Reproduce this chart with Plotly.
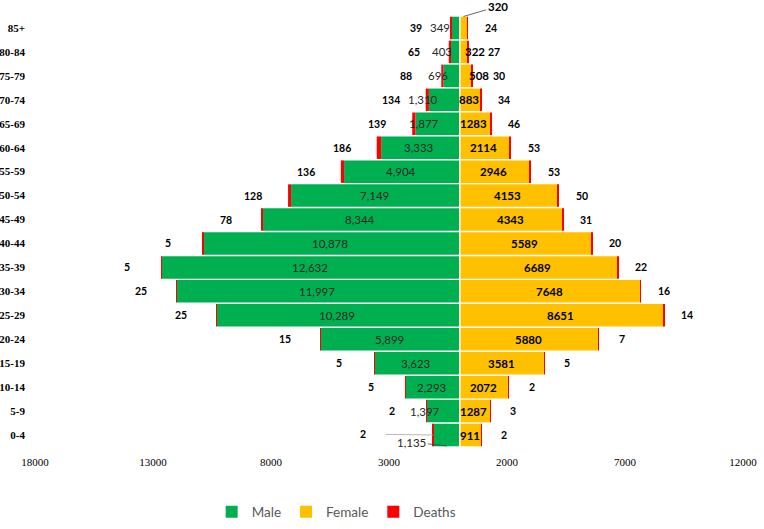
import plotly.graph_objects as go

# ---------------- data ----------------
ages = ["0-4", "5-9", "10-14", "15-19", "20-24", "25-29", "30-34", "35-39", "40-44",
        "45-49", "50-54", "55-59", "60-64", "65-69", "70-74", "75-79", "80-84", "85+"]
male = [1135, 1397, 2293, 3623, 5899, 10289, 11997, 12632, 10878,
        8344, 7149, 4904, 3333, 1877, 1310, 696, 403, 349]
female = [911, 1287, 2072, 3581, 5880, 8651, 7648, 6689, 5589,
          4343, 4153, 2946, 2114, 1283, 883, 508, 322, 320]
deaths_male = [2, 2, 5, 5, 15, 25, 25, 5, 5, 78, 128, 136, 186, 139, 134, 88, 65, 39]
deaths_female = [2, 3, 2, 5, 7, 14, 16, 22, 20, 31, 50, 53, 53, 46, 34, 30, 27, 24]
tick_values = [-18000, -13000, -8000, -3000, 2000, 7000, 12000]
tick_labels = ["18000", "13000", "8000", "3000", "2000", "7000", "12000"]

GREEN = "#00B050"
YELLOW = "#FFC000"
RED = "#FF0000"
LBL = "Lato"

fig = go.Figure()
fig.add_trace(go.Bar(name="Male", y=ages, x=[-v for v in male], orientation="h",
                     marker=dict(color=GREEN, line=dict(width=0)), hoverinfo="skip"))
fig.add_trace(go.Bar(name="Female", y=ages, x=female, orientation="h",
                     marker=dict(color=YELLOW, line=dict(width=0)), hoverinfo="skip"))
fig.add_trace(go.Bar(name="Deaths", y=ages, x=[-v for v in deaths_male], orientation="h",
                     marker=dict(color=RED, line=dict(width=0)), hoverinfo="skip"))
fig.add_trace(go.Bar(name="Deaths", y=ages, x=deaths_female, orientation="h",
                     marker=dict(color=RED, line=dict(width=0)), showlegend=False,
                     hoverinfo="skip"))

# label nudges (pixels) for labels that sit off-centre in the reference
male_dx = {"85+": -16, "80-84": -13, "75-79": -14, "70-74": -21, "65-69": -14, "5-9": -18}
female_dx = {"80-84": 11, "75-79": 13}
female_death_dx = {"80-84": 26, "75-79": 26}

ann = []
for i, a in enumerate(ages):
    m, f, dm, df = male[i], female[i], deaths_male[i], deaths_female[i]
    # male value
    if a == "0-4":
        ann.append(dict(x=-550, y=a, yshift=-11, text=f"{m:,}", showarrow=True,
                        ax=-35, ay=-4, arrowhead=0, arrowwidth=0.8, arrowcolor="#404040",
                        font=dict(family=LBL, size=11.5, color="#262626")))
    else:
        ann.append(dict(x=-m / 2, y=a, text=f"{m:,}", showarrow=False,
                        xshift=male_dx.get(a, -1),
                        font=dict(family=LBL, size=11.5, color="#262626")))
    # female value
    if a == "85+":
        ann.append(dict(x=f / 2, y=a, yshift=11.5, text=f"<b>{f}</b>", showarrow=True,
                        ax=34, ay=-10, arrowhead=0, arrowwidth=0.8, arrowcolor="#404040",
                        font=dict(family=LBL, size=11.5, color="black")))
    else:
        ann.append(dict(x=f / 2, y=a, text=f"<b>{f}</b>", showarrow=False,
                        xshift=female_dx.get(a, -1),
                        font=dict(family=LBL, size=11.5, color="black")))
    # deaths, male side
    if a == "0-4":
        ann.append(dict(x=-(m + dm), y=a, text=f"<b>{dm}</b>", showarrow=True,
                        ax=-70, ay=-1, arrowhead=0, arrowwidth=0.8, arrowcolor="#a6a6a6",
                        startstandoff=18,
                        font=dict(family=LBL, size=10.5, color="black")))
    else:
        ann.append(dict(x=-(m + dm), y=a, text=f"<b>{dm}</b>", showarrow=False,
                        xshift=-35, font=dict(family=LBL, size=10.5, color="black")))
    # deaths, female side
    ann.append(dict(x=f + df, y=a, text=f"<b>{df}</b>", showarrow=False,
                    xshift=female_death_dx.get(a, 23),
                    font=dict(family=LBL, size=10.5, color="black")))

fig.update_layout(
    width=764, height=529,
    margin=dict(l=35, r=21, t=16, b=82, autoexpand=False),
    barmode="relative",
    bargap=0.06,
    plot_bgcolor="white", paper_bgcolor="white",
    annotations=ann,
    shapes=[dict(type="line", xref="x", yref="paper", x0=0, x1=0, y0=0, y1=1,
                 line=dict(color="white", width=1.5), layer="above")],
    xaxis=dict(range=[-18000, 12000], tickvals=tick_values, ticktext=tick_labels,
               showgrid=False, zeroline=False, showline=False, ticks="",
               ticklabelstandoff=7, automargin=False,
               tickfont=dict(family="Liberation Serif", size=11, color="black")),
    yaxis=dict(range=[-0.5, 17.5], showgrid=False, zeroline=False, showline=False,
               ticks="", ticklabelstandoff=9, automargin=False,
               tickfont=dict(family="Liberation Serif", size=11, color="black"),
               tickprefix="<b>", ticksuffix="</b>"),
    legend=dict(orientation="h", xref="container", yref="container",
                x=0.44, xanchor="center", y=0.032, yanchor="middle",
                font=dict(family=LBL, size=13.5, color="#595959"),
                itemwidth=30, traceorder="normal"),
    showlegend=True,
)

fig.write_html("out.html",
               config={"displayModeBar": False},
               post_script="document.body.style.margin='0px';"
                           "document.body.style.overflow='hidden';")
